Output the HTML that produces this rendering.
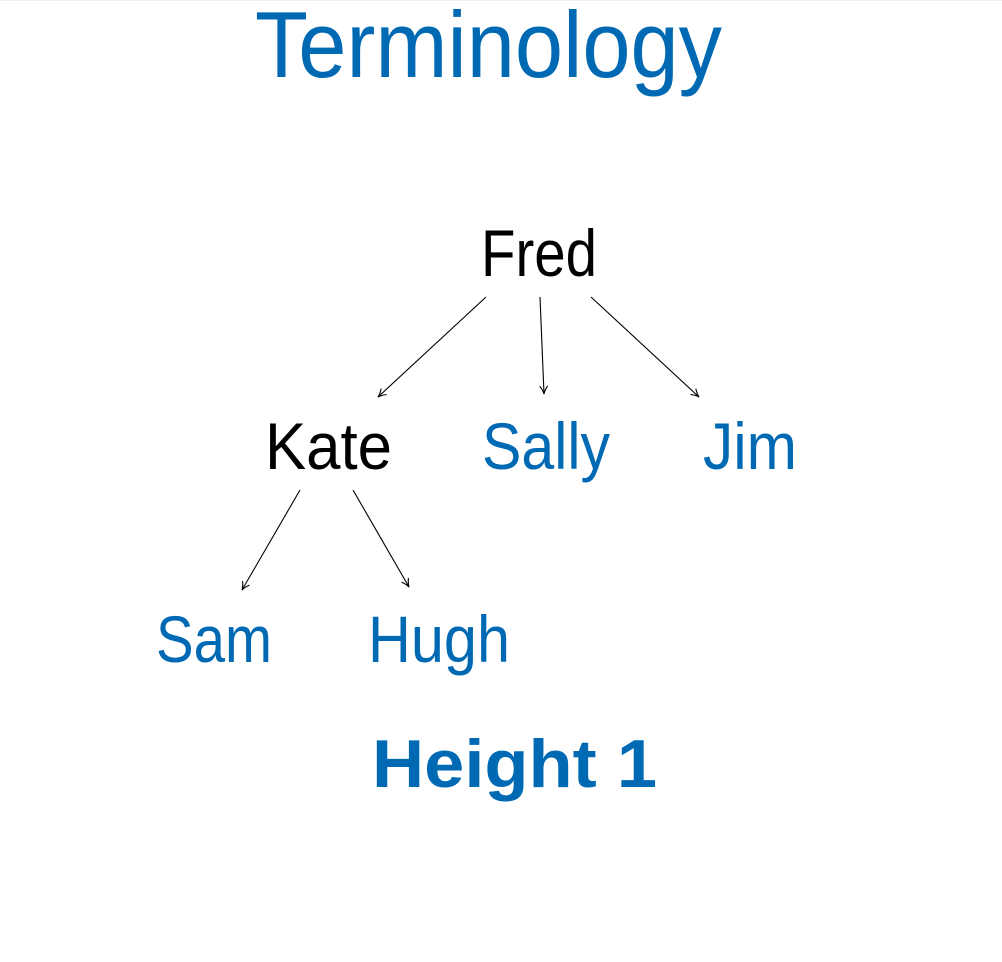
<!DOCTYPE html>
<html><head><meta charset="utf-8"><style>
html,body{margin:0;padding:0;background:#fff;}
svg{display:block;}
text{font-family:"Liberation Sans",sans-serif;}
</style></head><body>
<svg width="1002" height="962" viewBox="0 0 1002 962" xmlns="http://www.w3.org/2000/svg">
<defs>
<marker id="a" viewBox="0 0 10 10" refX="9" refY="5" markerWidth="10" markerHeight="10" markerUnits="userSpaceOnUse" orient="auto">
<path d="M1,1 Q5,4 9,5 Q5,6 1,9" fill="none" stroke="#000" stroke-width="1.1"/>
</marker>
</defs>
<line x1="0" y1="0.5" x2="1002" y2="0.5" stroke="#eee"/>
<text x="255" y="77" font-size="94" fill="#0069b4" textLength="467" lengthAdjust="spacingAndGlyphs">Terminology</text>
<text x="481" y="276" font-size="66" fill="#000" textLength="116" lengthAdjust="spacingAndGlyphs">Fred</text>
<text x="265" y="469" font-size="66" fill="#000" textLength="127" lengthAdjust="spacingAndGlyphs">Kate</text>
<text x="482" y="469" font-size="66" fill="#0069b4" textLength="128" lengthAdjust="spacingAndGlyphs">Sally</text>
<text x="703" y="469" font-size="66" fill="#0069b4" textLength="94" lengthAdjust="spacingAndGlyphs">Jim</text>
<text x="156" y="662" font-size="66" fill="#0069b4" textLength="116" lengthAdjust="spacingAndGlyphs">Sam</text>
<text x="368" y="662" font-size="66" fill="#0069b4" textLength="142" lengthAdjust="spacingAndGlyphs">Hugh</text>
<text x="372" y="787" font-size="68" font-weight="bold" fill="#0069b4" textLength="285" lengthAdjust="spacingAndGlyphs">Height 1</text>
<g stroke="#000" stroke-width="1.1" fill="none" marker-end="url(#a)">
<line x1="486" y1="297" x2="378" y2="397"/>
<line x1="540" y1="297" x2="544" y2="394"/>
<line x1="591" y1="297" x2="699" y2="397"/>
<line x1="300" y1="490" x2="242" y2="590"/>
<line x1="353" y1="490" x2="409" y2="587"/>
</g>
</svg>
</body></html>
